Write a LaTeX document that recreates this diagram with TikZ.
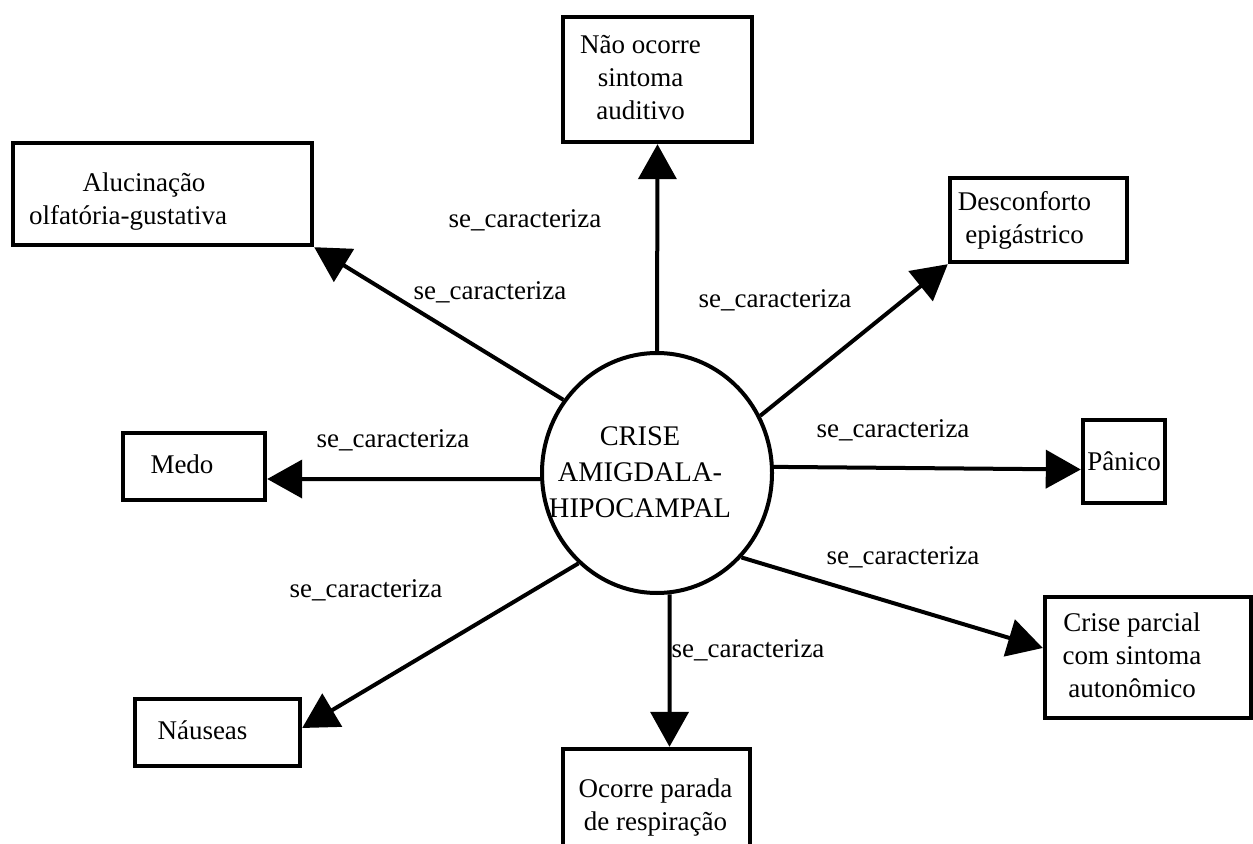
\documentclass[tikz,border=0pt]{standalone}
\usepackage{fontspec}
\setmainfont{Liberation Serif}
\usetikzlibrary{arrows.meta,calc,shapes.geometric}

% centred lines, pushed left by half of #1
\newcommand\shiftedlines[2]{\begin{tabular}{@{}c@{}}#2\end{tabular}\hspace*{#1}}

\begin{document}
\begin{tikzpicture}[x=0.5pt,y=-0.5pt,
  every node/.style={font=\fontsize{13.5}{16.5}\selectfont, inner sep=0pt},
  concept/.style={draw, line width=2.2pt, rectangle, fill=white},
  hub/.style={draw, line width=2pt, ellipse, minimum width=115pt, minimum height=120pt,
    font=\fontsize{14.2}{18}\selectfont},
  rel/.style={line width=2pt, -{Triangle[length=17.5pt,width=19pt]}},
  lbl/.style={anchor=center}]

\useasboundingbox (0,0) rectangle (1253,844);
\clip (0,0) rectangle (1253,844);

% central concept (text kept out of the shape size)
\node[hub] (c) at (657,473)
  {\makebox[0pt][c]{\shiftedlines{17pt}{\rule{0pt}{14pt}CRISE\\AMIGDALA-\\HIPOCAMPAL}}};

% surrounding concepts
\node[concept, minimum width=94.5pt, minimum height=62.5pt] (aud) at (657.5,79.5)
  {\shiftedlines{17pt}{Não ocorre\\sintoma\\auditivo}};
\node[concept, minimum width=149.5pt, minimum height=51pt] (alu) at (162.5,194)
  {\shiftedlines{34.5pt}{\rule{0pt}{18.5pt}\hspace*{16pt}Alucinação\\olfatória-gustativa}};
\node[concept, minimum width=88.5pt, minimum height=42pt] (epi) at (1038.5,220)
  {\shiftedlines{14pt}{Desconforto\\epigástrico}};
\node[concept, minimum width=41pt, minimum height=41.5pt] (pan) at (1124,461.5)
  {Pânico};
\node[concept, minimum width=103pt, minimum height=60.5pt] (aut) at (1148,657.5)
  {\shiftedlines{16pt}{Crise parcial\\com sintoma\\autonômico}};
\node[concept, minimum width=93.5pt, minimum height=58pt] (resp) at (656.5,807)
  {\shiftedlines{1pt}{Ocorre parada\\de respiração}};
\node[concept, minimum width=82.5pt, minimum height=33.5pt] (nau) at (217.5,732.5)
  {\shiftedlines{15pt}{Náuseas}};
\node[concept, minimum width=71pt, minimum height=33.5pt] (medo) at (194,466.5)
  {\shiftedlines{12pt}{Medo}};

% relations
\draw[rel] (c.90) -- (aud.south);
\draw[rel] (c.142) -- (alu.south east);
\draw[rel] (c.29) -- (epi.south west);
\draw[rel] (c.183) -- ($(medo.east)+(0,12.5)$);
\draw[rel] (c.3) -- ($(pan.west)+(0,8)$);
\draw[rel] (c.-45) -- ($(aut.west)+(0,-9.5)$);
\draw[rel] (c.276) -- ($(resp.north)+(13,0)$);
\draw[rel] (c.229) -- ($(nau.east)+(0,-4.5)$);

% relation labels
\node[lbl] (l1) at (525,220) {se\_caracteriza};
\node[lbl] (l2) at (490,292) {se\_caracteriza};
\node[lbl] (l3) at (775,300) {se\_caracteriza};
\node[lbl] (l4) at (393,440) {se\_caracteriza};
\node[lbl] (l5) at (893,430) {se\_caracteriza};
\node[lbl] (l6) at (903,557) {se\_caracteriza};
\node[lbl] (l7) at (366,590) {se\_caracteriza};
\node[lbl] (l8) at (748,650) {se\_caracteriza};
\end{tikzpicture}
\end{document}
